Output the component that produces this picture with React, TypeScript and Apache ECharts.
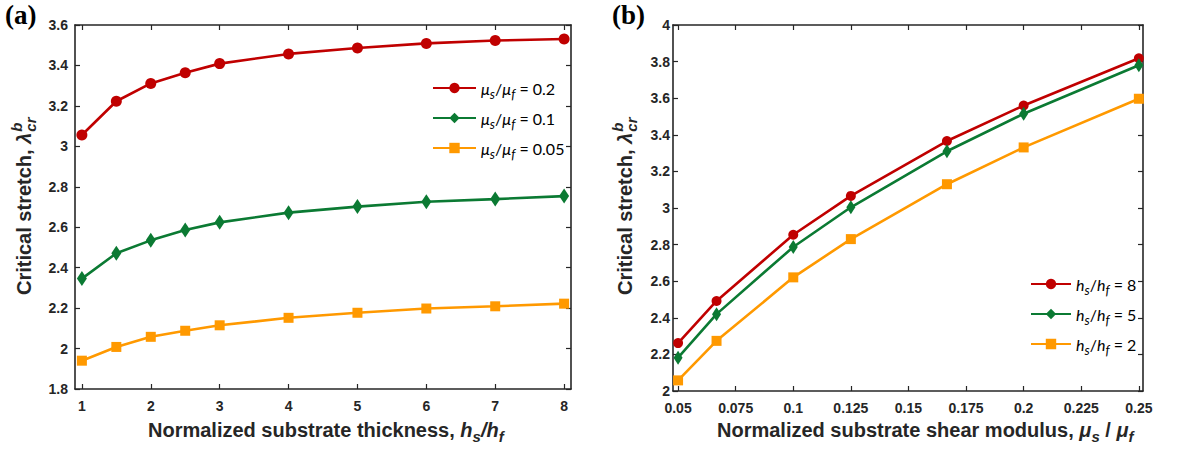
import React, { useEffect, useRef } from 'react';
import * as echarts from 'echarts';

// ---------- data ----------
const X_THICK = [1, 1.5, 2, 2.5, 3, 4, 5, 6, 7, 8];
const RED_A = [3.056, 3.223, 3.311, 3.364, 3.409, 3.457, 3.486, 3.509, 3.523, 3.531];
const GREEN_A = [2.346, 2.471, 2.535, 2.586, 2.624, 2.672, 2.702, 2.726, 2.739, 2.754];
const ORANGE_A = [1.94, 2.008, 2.058, 2.088, 2.115, 2.152, 2.177, 2.198, 2.209, 2.222];

const X_SHEAR = [0.05, 0.0667, 0.1, 0.125, 0.1667, 0.2, 0.25];
const RED_B = [2.262, 2.492, 2.854, 3.066, 3.366, 3.56, 3.818];
const GREEN_B = [2.182, 2.42, 2.787, 3.004, 3.31, 3.515, 3.78];
const ORANGE_B = [2.058, 2.274, 2.621, 2.83, 3.13, 3.331, 3.597];

const TICKS_XA = [1, 2, 3, 4, 5, 6, 7, 8];
const TICKS_YA = [1.8, 2, 2.2, 2.4, 2.6, 2.8, 3, 3.2, 3.4, 3.6];
const TICKS_XB = [0.05, 0.075, 0.1, 0.125, 0.15, 0.175, 0.2, 0.225, 0.25];
const TICKS_YB = [2, 2.2, 2.4, 2.6, 2.8, 3, 3.2, 3.4, 3.6, 3.8, 4];

const NAMES_A = ['μs/μf = 0.2', 'μs/μf = 0.1', 'μs/μf = 0.05'];
const LEG_A = ['0.2', '0.1', '0.05'];
const NAMES_B = ['hs/hf = 8', 'hs/hf = 5', 'hs/hf = 2'];
const LEG_B = ['8', '5', '2'];

const RED = '#c00000';
const GREEN = '#0b7a33';
const ORANGE = '#ff9900';
const AX = '#262626';
const SANS = "'Liberation Sans', Arial, sans-serif";

function measure(t: string, font: string) {
  const c = document.createElement('canvas').getContext('2d')!;
  c.font = font;
  return c.measureText(t).width;
}

function xAx(gridIndex: number, min: number, max: number, ticks: number[], pos: string, labels: boolean) {
  return {
    type: 'value', gridIndex, min, max, position: pos,
    axisLine: { show: true, onZero: false, lineStyle: { color: AX, width: 1.6 } },
    axisTick: { show: true, inside: true, length: 5, customValues: ticks, lineStyle: { color: AX, width: 1.2 } },
    axisLabel: { show: labels, customValues: ticks, margin: 10, color: AX, fontWeight: 'bold', fontSize: 14, fontFamily: SANS },
    splitLine: { show: false },
  };
}
function yAx(gridIndex: number, min: number, max: number, ticks: number[], pos: string, labels: boolean, margin: number) {
  return {
    type: 'value', gridIndex, min, max, position: pos,
    axisLine: { show: true, onZero: false, lineStyle: { color: AX, width: 1.6 } },
    axisTick: { show: true, inside: true, length: 5, customValues: ticks, lineStyle: { color: AX, width: 1.2 } },
    axisLabel: { show: labels, customValues: ticks, margin, color: AX, fontWeight: 'bold', fontSize: 14, fontFamily: SANS },
    splitLine: { show: false },
  };
}

function line(name: string, xs: number[], ys: number[], color: string, symbol: string, size: any, xi: number) {
  return {
    type: 'line', name, xAxisIndex: xi, yAxisIndex: xi,
    data: xs.map((x, i) => [x, ys[i]]),
    symbol, symbolSize: size, showSymbol: true,
    lineStyle: { color, width: 2.6 },
    itemStyle: { color },
    z: 3,
  };
}

const legRich = {
  n: { fontFamily: 'Lato', fontSize: 16, color: '#000' },
  i: { fontFamily: 'Lato', fontStyle: 'italic', fontSize: 16, color: '#000' },
  sub: { fontFamily: 'Lato', fontStyle: 'italic', fontSize: 13, color: '#000', padding: [11, 0, 0, 0] },
};

function yTitle(gx: number, gy: number) {
  const mainFont = `bold 20px ${SANS}`;
  const w = measure('Critical stretch, ', mainFont) + measure('λ', `italic bold 20px ${SANS}`);
  return {
    type: 'group', x: gx, y: gy, rotation: Math.PI / 2,
    children: [
      {
        type: 'text', x: 0, y: 0,
        style: {
          text: '{n|Critical stretch, }{l|λ}', align: 'left', verticalAlign: 'middle',
          rich: {
            n: { fontFamily: SANS, fontWeight: 'bold', fontSize: 20, fill: AX },
            l: { fontFamily: SANS, fontWeight: 'bold', fontStyle: 'italic', fontSize: 20, fill: AX },
          },
        },
      },
      { type: 'text', x: w + 1, y: -8, style: { text: 'b', align: 'left', verticalAlign: 'middle', fontFamily: SANS, fontWeight: 'bold', fontStyle: 'italic', fontSize: 15, fill: AX } },
      { type: 'text', x: w + 1, y: 6, style: { text: 'cr', align: 'left', verticalAlign: 'middle', fontFamily: SANS, fontWeight: 'bold', fontStyle: 'italic', fontSize: 15, fill: AX } },
    ],
  };
}

const xRich = {
  n: { fontFamily: SANS, fontWeight: 'bold', fontSize: 20, fill: AX },
  i: { fontFamily: SANS, fontWeight: 'bold', fontStyle: 'italic', fontSize: 20, fill: AX },
  sub: { fontFamily: SANS, fontWeight: 'bold', fontStyle: 'italic', fontSize: 15, fill: AX, padding: [13, 0, 0, 0] },
};

export default function App() {
  const ref = useRef<HTMLDivElement>(null);
  useEffect(() => {
    document.body.style.margin = '0';
    const chart = echarts.init(ref.current!, null, { renderer: 'svg' });
    const option: any = {
      animation: false,
      backgroundColor: '#fff',
      textStyle: { fontFamily: SANS },
      grid: [
        { left: 75, top: 25, width: 496, height: 364 },
        { left: 673, top: 25, width: 470, height: 366 },
      ],
      xAxis: [
        xAx(0, 0.9, 8.1, TICKS_XA, 'bottom', true),
        xAx(0, 0.9, 8.1, TICKS_XA, 'top', false),
        xAx(1, 0.0478, 0.2518, TICKS_XB, 'bottom', true),
        xAx(1, 0.0478, 0.2518, TICKS_XB, 'top', false),
      ],
      yAxis: [
        yAx(0, 1.8, 3.6, TICKS_YA, 'left', true, 7),
        yAx(0, 1.8, 3.6, TICKS_YA, 'right', false, 7),
        yAx(1, 2, 4, TICKS_YB, 'left', true, 3),
        yAx(1, 2, 4, TICKS_YB, 'right', false, 3),
      ],
      legend: [
        {
          data: NAMES_A, orient: 'vertical', left: 427, top: 75, itemWidth: 43, itemHeight: 13, itemGap: 10,
          selectedMode: false,
          formatter: (name: string) => `{i|μ}{sub|s}{n|/}{i|μ}{sub|f}{n| = ${LEG_A[NAMES_A.indexOf(name)]}}`,
          textStyle: { rich: legRich },
        },
        {
          data: NAMES_B, orient: 'vertical', left: 1025, top: 271, itemWidth: 40, itemHeight: 13, itemGap: 10,
          selectedMode: false,
          formatter: (name: string) => `{i|h}{sub|s}{n|/}{i|h}{sub|f}{n| = ${LEG_B[NAMES_B.indexOf(name)]}}`,
          textStyle: { rich: legRich },
        },
      ],
      series: [
        line(NAMES_A[0], X_THICK, RED_A, RED, 'circle', 11, 0),
        line(NAMES_A[1], X_THICK, GREEN_A, GREEN, 'diamond', [10, 15], 0),
        line(NAMES_A[2], X_THICK, ORANGE_A, ORANGE, 'rect', 10, 0),
        line(NAMES_B[0], X_SHEAR, RED_B, RED, 'circle', 10, 2),
        line(NAMES_B[1], X_SHEAR, GREEN_B, GREEN, 'diamond', [9, 14], 2),
        line(NAMES_B[2], X_SHEAR, ORANGE_B, ORANGE, 'rect', 10, 2),
      ],
      graphic: [
        { type: 'text', x: 5, y: 1, style: { text: '(a)', align: 'left', verticalAlign: 'top', fontFamily: "'Liberation Serif', serif", fontWeight: 'bold', fontSize: 27, fill: '#000' } },
        { type: 'text', x: 612, y: 1, style: { text: '(b)', align: 'left', verticalAlign: 'top', fontFamily: "'Liberation Serif', serif", fontWeight: 'bold', fontSize: 27, fill: '#000' } },
        {
          type: 'text', x: 148, y: 430,
          style: { text: '{n|Normalized substrate thickness, }{i|h}{sub|s}{i|/h}{sub|f}', align: 'left', verticalAlign: 'middle', rich: xRich },
        },
        {
          type: 'text', x: 717, y: 430,
          style: { text: '{n|Normalized substrate shear modulus, }{i|μ}{sub|s}{n| / }{i|μ}{sub|f}', align: 'left', verticalAlign: 'middle', rich: xRich },
        },
        yTitle(24, 295),
        yTitle(625, 295),
      ],
    };
    chart.setOption(option);
    return () => chart.dispose();
  }, []);
  return <div ref={ref} style={{ width: 1199, height: 450 }} />;
}
